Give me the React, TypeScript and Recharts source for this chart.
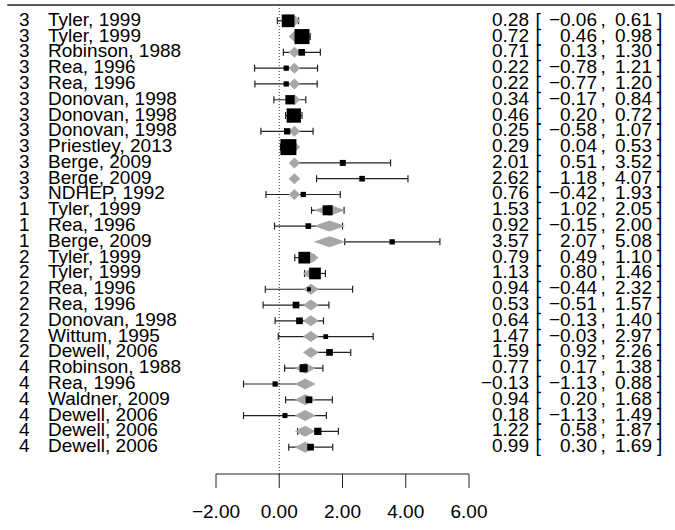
import React from "react";
import { ScatterChart, Scatter, XAxis, YAxis, ZAxis, ErrorBar, ReferenceLine } from "recharts";

document.body.style.margin = "0";

// ---- data ----
const groups = [3, 3, 3, 3, 3, 3, 3, 3, 3, 3, 3, 3, 1, 1, 1, 2, 2, 2, 2, 2, 2, 2, 4, 4, 4, 4, 4, 4];
const studies = [
  "Tyler, 1999", "Tyler, 1999", "Robinson, 1988", "Rea, 1996", "Rea, 1996", "Donovan, 1998",
  "Donovan, 1998", "Donovan, 1998", "Priestley, 2013", "Berge, 2009", "Berge, 2009", "NDHEP, 1992",
  "Tyler, 1999", "Rea, 1996", "Berge, 2009",
  "Tyler, 1999", "Tyler, 1999", "Rea, 1996", "Rea, 1996", "Donovan, 1998", "Wittum, 1995", "Dewell, 2006",
  "Robinson, 1988", "Rea, 1996", "Waldner, 2009", "Dewell, 2006", "Dewell, 2006", "Dewell, 2006",
];
const estimates = [0.28, 0.72, 0.71, 0.22, 0.22, 0.34, 0.46, 0.25, 0.29, 2.01, 2.62, 0.76, 1.53, 0.92, 3.57, 0.79, 1.13, 0.94, 0.53, 0.64, 1.47, 1.59, 0.77, -0.13, 0.94, 0.18, 1.22, 0.99];
const lower = [-0.06, 0.46, 0.13, -0.78, -0.77, -0.17, 0.2, -0.58, 0.04, 0.51, 1.18, -0.42, 1.02, -0.15, 2.07, 0.49, 0.8, -0.44, -0.51, -0.13, -0.03, 0.92, 0.17, -1.13, 0.2, -1.13, 0.58, 0.3];
const upper = [0.61, 0.98, 1.3, 1.21, 1.2, 0.84, 0.72, 1.07, 0.53, 3.52, 4.07, 1.93, 2.05, 2.0, 5.08, 1.1, 1.46, 2.32, 1.57, 1.4, 2.97, 2.26, 1.38, 0.88, 1.68, 1.49, 1.87, 1.69];
// relative study weights (square area)
const weights = [10.1, 14.1, 2.8, 1.75, 1.75, 5.4, 12.8, 2.5, 16, 2.25, 2.0, 1.75, 6.25, 2.0, 1.75, 8.55, 8.55, 1.0, 2.8, 2.8, 1.4, 2.8, 4, 1.75, 2.8, 1.56, 3.3, 2.8];
// fitted value per group (grey diamonds)
const fitGroups = [1, 2, 3, 4];
const fitCenter = [1.59, 1.0, 0.48, 0.82];
const fitHalfWidth = [0.5, 0.25, 0.18, 0.33];
const xTicks = [-2, 0, 2, 4, 6];

// ---- layout ----
const W = 675;
const H = 530;
const LEFT_W = 216;
const RIGHT_W = 206;
const X_AXIS_H = 56;
const X_DOMAIN: [number, number] = [-2, 6];
const Y_DOMAIN: [number, number] = [-0.7, 29];
const PX_PER_UNIT = (W - LEFT_W - RIGHT_W) / (X_DOMAIN[1] - X_DOMAIN[0]);
const FONT = "'Liberation Sans', Arial, sans-serif";
const FS = 19;
const N = studies.length;

const fmt = (v: number) => (v < 0 ? "\u2212" : "") + Math.abs(v).toFixed(2);

const rows = studies.map((s, i) => ({
  y: N - i,
  x: estimates[i],
  err: [estimates[i] - lower[i], upper[i] - estimates[i]],
  w: weights[i],
}));

const fits = groups.map((g, i) => {
  const k = fitGroups.indexOf(g);
  return { y: N - i, x: fitCenter[k], hw: fitHalfWidth[k] };
});

const rowTicks = rows.map((r) => r.y);

function Diamond(props: any) {
  const { cx, cy, payload } = props;
  const hw = payload.hw * PX_PER_UNIT;
  const hh = 5.5;
  return (
    <polygon
      points={`${cx - hw},${cy} ${cx},${cy - hh} ${cx + hw},${cy} ${cx},${cy + hh}`}
      fill="#a6a6a6"
    />
  );
}

function LeftTick(props: any) {
  const { y, payload } = props;
  const i = N - payload.value;
  if (i < 0 || i >= N) return null;
  return (
    <g fontFamily={FONT} fontSize={FS} fill="#000">
      <text x={19} y={y + 5}>{groups[i]}</text>
      <text x={48} y={y + 5}>{studies[i]}</text>
    </g>
  );
}

function RightTick(props: any) {
  const { y, payload } = props;
  const i = N - payload.value;
  if (i < 0 || i >= N) return null;
  const by = y + 5;
  return (
    <g fontFamily={FONT} fontSize={FS} fill="#000">
      <text x={529} y={by} textAnchor="end">{fmt(estimates[i])}</text>
      <text x={535.5} y={by}>[</text>
      <text x={597} y={by} textAnchor="end">{fmt(lower[i])}</text>
      <text x={600.5} y={by}>,</text>
      <text x={652} y={by} textAnchor="end">{fmt(upper[i])}</text>
      <text x={657} y={by}>]</text>
    </g>
  );
}

export default function App() {
  return (
    <div style={{ width: W, height: H, background: "#fff" }}>
      <ScatterChart width={W} height={H} margin={{ top: 5, right: 0, bottom: 0, left: 0 }}>
        <XAxis
          type="number"
          dataKey="x"
          domain={X_DOMAIN}
          ticks={xTicks}
          interval={0}
          height={X_AXIS_H}
          tickSize={14}
          tickMargin={17}
          stroke="#222"
          tick={{ fill: "#000", fontSize: FS, fontFamily: FONT }}
          tickFormatter={fmt}
          allowDataOverflow
        />
        <YAxis
          yAxisId="left"
          type="number"
          dataKey="y"
          domain={Y_DOMAIN}
          ticks={rowTicks}
          interval={0}
          width={LEFT_W}
          axisLine={false}
          tickLine={false}
          tick={<LeftTick />}
          allowDataOverflow
        />
        <YAxis
          yAxisId="right"
          orientation="right"
          type="number"
          domain={Y_DOMAIN}
          ticks={rowTicks}
          interval={0}
          width={RIGHT_W}
          axisLine={false}
          tickLine={false}
          tick={<RightTick />}
          allowDataOverflow
        />
        <ZAxis type="number" dataKey="w" domain={[0, 16]} range={[0, 256]} />
        <ReferenceLine
          yAxisId="left"
          segment={[{ x: -8.6, y: 29 }, { x: 12.5, y: 29 }]}
          stroke="#222"
          strokeWidth={1.5}
          ifOverflow="visible"
        />
        <ReferenceLine yAxisId="left" x={0} stroke="#333" strokeDasharray="1 2" />
        <Scatter yAxisId="left" data={fits} shape={<Diamond />} isAnimationActive={false} />
        <Scatter yAxisId="left" data={rows} shape="square" fill="#000" isAnimationActive={false}>
          <ErrorBar dataKey="err" direction="x" width={3.5} stroke="#222" strokeWidth={1.2} />
        </Scatter>
      </ScatterChart>
    </div>
  );
}
